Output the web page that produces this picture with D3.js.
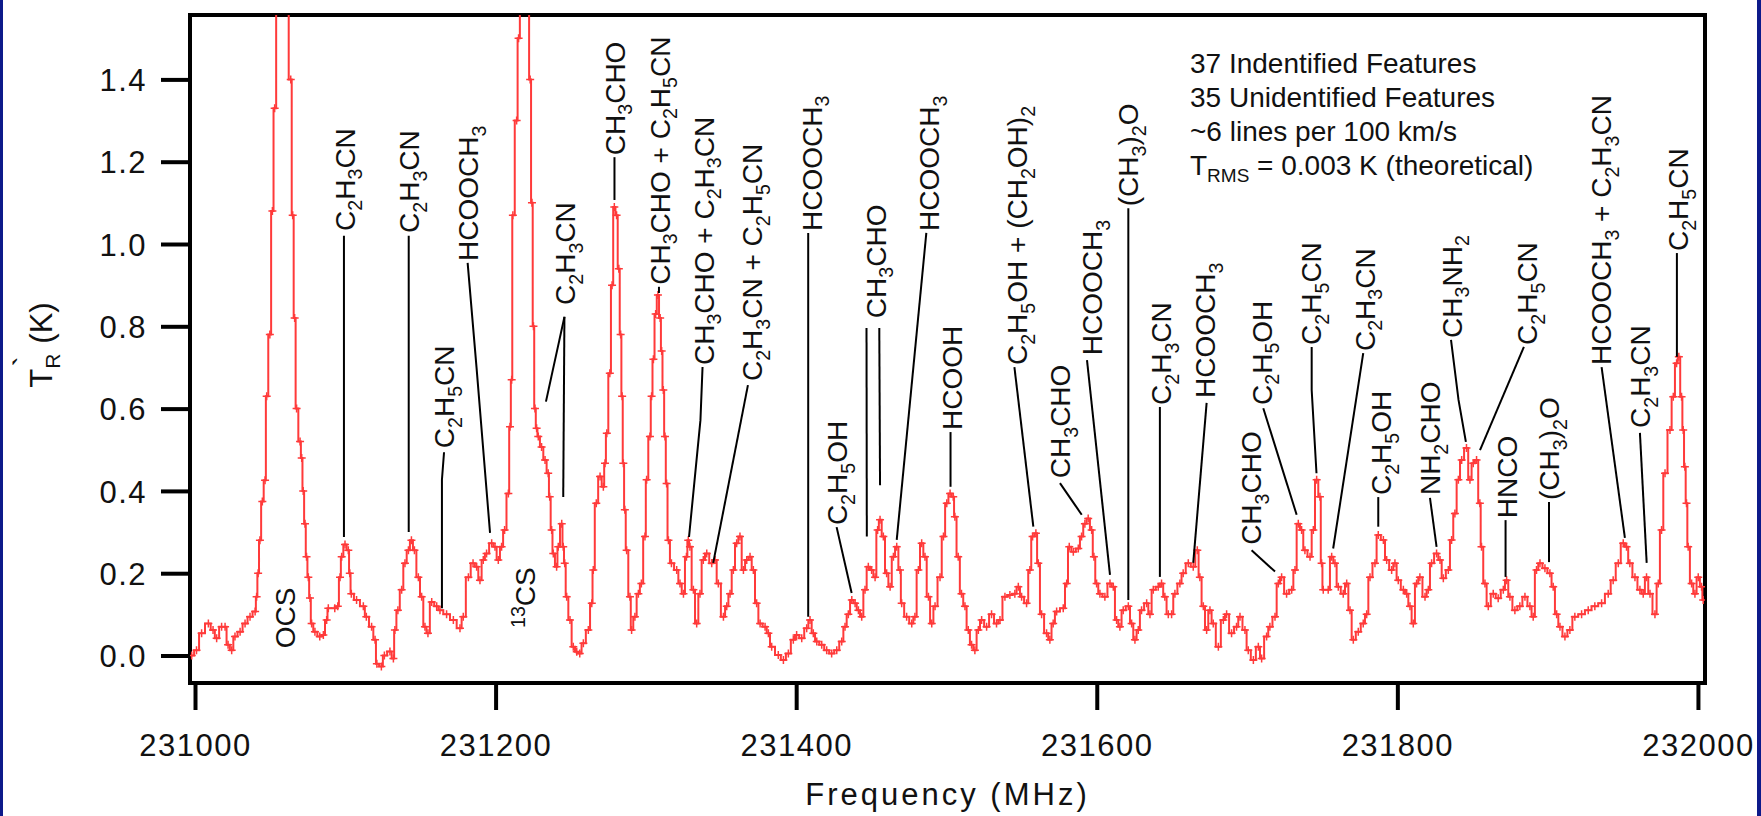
<!DOCTYPE html>
<html>
<head>
<meta charset="utf-8">
<script src="https://cdn.jsdelivr.net/npm/d3@7"></script>
<style>
html, body { margin: 0; padding: 0; background: #fff; }
svg { display: block; font-family: "Liberation Sans", Arial, Helvetica, sans-serif; }
</style>
</head>
<body>
<svg id="chart" width="1761" height="816"></svg>
<script>
// frequencies are MHz above F0
const F0 = 231000;

const xTicks = [231000, 231200, 231400, 231600, 231800, 232000];
const yTicks = [0.0, 0.2, 0.4, 0.6, 0.8, 1.0, 1.2, 1.4];

const specF = [-2.2, 1, 4.4, 8.9, 12, 14.4, 17.7, 20, 22, 24.4, 26.6, 30, 33.3, 36.6, 40, 41, 42, 43.2, 44.8, 46.6,
  47.7, 49.8, 51.5, 53, 55, 58, 61, 63.7, 65, 66.3, 67.6, 69.9, 71, 72, 73.2, 74.2, 75.4, 76.5, 77.6, 79.8,
  83, 85.4, 87.6, 88.7, 93, 95, 96.5, 97.6, 99.8, 102, 103, 104, 107.5, 112, 114, 117.5, 119.8, 121, 124, 126,
  129.7, 132, 133, 135, 137.5, 139.7, 142, 144, 146, 148.6, 150.8, 153, 155, 157.5, 160.8, 163, 167.4, 171.9, 176.3, 178.5,
  181.9, 185, 187.4, 189.6, 191.8, 194, 197.4, 199.6, 201.8, 204, 206, 208.5, 209.6, 210.7, 211.5, 214, 215.3, 217, 219, 221.6,
  223, 224.2, 225.2, 226.2, 227.3, 228.4, 230.6, 232.9, 235, 236, 237.3, 238.4, 240.6, 241.7, 244, 245, 246, 247.3, 249.5, 251.7,
  254, 256, 258.4, 261.7, 264, 265, 267, 269.5, 271.7, 272.8, 274, 276, 277.5, 279, 280.5, 282, 283.2, 284.2, 285, 286,
  287.2, 289.4, 290.5, 292.7, 295, 297, 299.4, 300.5, 302.7, 303.8, 305, 306.5, 308, 309.5, 310.5, 311.6, 312.7, 313.8, 315, 317,
  320.5, 322.7, 325, 327, 328.2, 329.3, 331.6, 333.8, 336, 338.2, 340.5, 343.8, 346, 348.2, 351.6, 353.8, 356, 358.2, 360.4, 362.6,
  364.9, 367.1, 369.3, 371.5, 373.7, 376, 379.3, 381.5, 383.7, 388.1, 391.5, 394.8, 398.1, 400.3, 403.7, 407, 409.2, 411.4, 413.7, 417,
  420.3, 423.6, 427, 430.3, 432.5, 434.7, 437, 439.2, 441.4, 443.6, 445.8, 448, 450.2, 452.5, 454.2, 455.8, 458, 460.2, 462.5, 464.7,
  466.9, 469.1, 470.2, 473.5, 476.9, 479, 481.3, 483.5, 485.7, 488, 490.2, 492.4, 495.7, 498, 500.2, 502.4, 504.5, 505.6, 507.8, 510,
  512.3, 514.5, 516.7, 518.9, 521.2, 523.4, 526.7, 530, 533.3, 535.6, 538.9, 542.2, 545.5, 547.8, 550, 553.3, 555.5, 557.3, 559.5, 561.1,
  563.3, 566.6, 568.8, 571, 573.3, 577.7, 580, 581.7, 584.4, 587.7, 589.9, 592.1, 594.3, 596.6, 598.1, 599.9, 602.1, 605.4, 608.8, 611,
  613.2, 615.4, 617.6, 621, 623.2, 625.4, 627.6, 629.8, 633.2, 635.4, 637.6, 640.9, 643.1, 645.3, 647.6, 649.8, 652, 655.3, 657.5, 660.9,
  664.2, 666.9, 668.6, 670.9, 673.1, 675.3, 677.5, 680.9, 684.2, 686.4, 689.7, 693, 695.3, 698.6, 700.8, 704.2, 707.5, 709.7, 713, 715.2,
  718.6, 720.8, 723, 726.3, 729.7, 731.9, 734.1, 736.3, 738.5, 741.9, 744.1, 746.3, 748.5, 749.6, 750.7, 754, 756.3, 758.5, 760.7, 764,
  766.3, 768.5, 770.7, 774, 777.3, 779.6, 781.8, 785.1, 787.3, 790.7, 792.9, 796.2, 798.4, 800.6, 804, 806.2, 808.4, 810.6, 812.8, 815,
  818.4, 820.6, 822.8, 826.1, 828.4, 830.6, 833.9, 836.1, 838.3, 840.6, 842.8, 846, 848.3, 850.5, 852.7, 854.9, 856, 858.3, 860.5, 863.8,
  867.1, 870.5, 872.7, 874.9, 878.2, 881.5, 884.9, 888.2, 890.4, 892.6, 894.9, 898.2, 901.5, 903.7, 906, 908.2, 911.5, 914.8, 918.1, 922.6,
  927, 931.4, 935.9, 940.3, 943.6, 947, 950.3, 952.5, 954.7, 958.1, 961.4, 963.6, 965.8, 968.1, 971.4, 973.6, 975.8, 978.1, 981.4, 983.6,
  985.8, 987.3, 989.1, 990.2, 991.3, 992.4, 993.5, 995.8, 998, 1000.2, 1002.4, 1003.5];

const specT = [0.00, 0.013, 0.054, 0.078, 0.062, 0.042, 0.07, 0.07, 0.026, 0.013, 0.046, 0.058, 0.078, 0.094, 0.107, 0.143, 0.2, 0.28, 0.374, 0.426,
  0.63, 0.78, 1.08, 1.33, 2.2, 3.0, 2.3, 1.4, 1.07, 0.82, 0.6, 0.52, 0.48, 0.40, 0.32, 0.24, 0.19, 0.14, 0.078, 0.058,
  0.046, 0.05, 0.086, 0.115, 0.115, 0.12, 0.19, 0.24, 0.27, 0.256, 0.2, 0.15, 0.135, 0.12, 0.094, 0.07, 0.038, -0.02, -0.027, 0.0,
  0.01, -0.007, 0.062, 0.11, 0.16, 0.224, 0.256, 0.28, 0.256, 0.19, 0.143, 0.07, 0.054, 0.13, 0.12, 0.11, 0.1, 0.086, 0.066, 0.094,
  0.19, 0.224, 0.216, 0.183, 0.232, 0.248, 0.273, 0.264, 0.232, 0.264, 0.305, 0.394, 0.556, 0.67, 1.07, 1.3, 1.5, 2.2, 2.8, 1.6,
  1.4, 1.1, 0.8, 0.6, 0.552, 0.532, 0.507, 0.475, 0.443, 0.386, 0.305, 0.248, 0.216, 0.264, 0.32, 0.264, 0.224, 0.143, 0.086, 0.021,
  0.009, 0.005, 0.03, 0.062, 0.127, 0.208, 0.37, 0.435, 0.41, 0.467, 0.54, 0.686, 0.9, 1.09, 1.07, 0.94, 0.78, 0.63, 0.467, 0.354,
  0.256, 0.143, 0.062, 0.094, 0.15, 0.175, 0.289, 0.427, 0.532, 0.63, 0.72, 0.83, 0.876, 0.82, 0.74, 0.645, 0.532, 0.418, 0.28, 0.224,
  0.208, 0.175, 0.15, 0.24, 0.28, 0.264, 0.16, 0.078, 0.15, 0.232, 0.248, 0.224, 0.232, 0.175, 0.094, 0.12, 0.15, 0.208, 0.273, 0.289,
  0.208, 0.232, 0.24, 0.208, 0.127, 0.078, 0.07, 0.054, 0.021, 0.001, -0.011, 0.005, 0.038, 0.05, 0.042, 0.066, 0.086, 0.054, 0.034, 0.026,
  0.013, 0.005, 0.013, 0.034, 0.07, 0.1, 0.135, 0.127, 0.11, 0.094, 0.16, 0.216, 0.208, 0.19, 0.305, 0.33, 0.289, 0.2, 0.167, 0.24,
  0.264, 0.208, 0.127, 0.094, 0.078, 0.094, 0.208, 0.273, 0.24, 0.143, 0.078, 0.12, 0.19, 0.289, 0.37, 0.394, 0.386, 0.337, 0.24, 0.15,
  0.12, 0.062, 0.026, 0.013, 0.062, 0.086, 0.07, 0.1, 0.078, 0.086, 0.143, 0.147, 0.15, 0.167, 0.143, 0.127, 0.208, 0.289, 0.297, 0.224,
  0.1, 0.054, 0.038, 0.078, 0.107, 0.115, 0.175, 0.264, 0.252, 0.26, 0.289, 0.32, 0.333, 0.305, 0.24, 0.175, 0.15, 0.143, 0.175, 0.167,
  0.086, 0.07, 0.11, 0.12, 0.078, 0.038, 0.062, 0.11, 0.127, 0.1, 0.16, 0.167, 0.175, 0.143, 0.1, 0.1, 0.15, 0.175, 0.2, 0.224,
  0.216, 0.256, 0.19, 0.12, 0.062, 0.11, 0.078, 0.021, 0.086, 0.1, 0.054, 0.07, 0.094, 0.062, 0.013, -0.011, 0.021, -0.007, 0.046, 0.07,
  0.094, 0.175, 0.19, 0.15, 0.16, 0.208, 0.32, 0.305, 0.256, 0.24, 0.305, 0.427, 0.386, 0.224, 0.16, 0.16, 0.24, 0.224, 0.167, 0.15,
  0.175, 0.11, 0.038, 0.058, 0.078, 0.1, 0.19, 0.224, 0.293, 0.281, 0.232, 0.208, 0.224, 0.183, 0.16, 0.15, 0.12, 0.078, 0.175, 0.19,
  0.143, 0.16, 0.224, 0.248, 0.232, 0.188, 0.208, 0.281, 0.345, 0.427, 0.475, 0.504, 0.427, 0.467, 0.475, 0.37, 0.264, 0.175, 0.12, 0.15,
  0.139, 0.16, 0.183, 0.143, 0.11, 0.12, 0.143, 0.12, 0.094, 0.208, 0.224, 0.212, 0.2, 0.167, 0.1, 0.07, 0.046, 0.062, 0.094, 0.1,
  0.11, 0.12, 0.127, 0.15, 0.183, 0.224, 0.273, 0.264, 0.224, 0.19, 0.16, 0.15, 0.19, 0.15, 0.1, 0.175, 0.305, 0.443, 0.548, 0.629,
  0.71, 0.726, 0.629, 0.548, 0.459, 0.37, 0.264, 0.175, 0.15, 0.19, 0.167, 0.135];

// line identifications: "_n" subscript, "^n" superscript
const labelText = ["C_2H_3CN", "C_2H_3CN", "HCOOCH_3", "C_2H_5CN", "OCS", "^13CS", "C_2H_3CN", "CH_3CHO",
  "CH_3CHO + C_2H_5CN", "CH_3CHO + C_2H_3CN", "C_2H_3CN + C_2H_5CN", "HCOOCH_3", "C_2H_5OH", "CH_3CHO",
  "HCOOCH_3", "HCOOH", "C_2H_5OH + (CH_2OH)_2", "CH_3CHO", "HCOOCH_3", "(CH_3)_2O", "C_2H_3CN", "HCOOCH_3",
  "CH_3CHO", "C_2H_5OH", "C_2H_5CN", "C_2H_3CN", "C_2H_5OH", "NH_2CHO", "CH_3NH_2", "C_2H_5CN", "HNCO",
  "(CH_3)_2O", "HCOOCH_3 + C_2H_3CN", "C_2H_3CN", "C_2H_5CN"];
const labelFreq = [99.5, 142.4, 181.6, 165.7, 59.5, 219.6, 246.2, 279.1, 309.1, 338.3, 370.6, 410.2, 426.9, 452.8,
  488.4, 503.3, 546.9, 575.5, 596.8, 620.8, 642.7, 672, 702.6, 709.6, 742.5, 778.1, 789.1, 821.7, 836, 886.2, 872.9,
  900.9, 935.5, 961.4, 986.7];
const labelBase = [1.027, 1.022, 0.954, 0.499, 0.013, 0.062, 0.847, 1.211, 0.896, 0.701, 0.662, 1.027, 0.312, 0.815,
  1.027, 0.543, 0.701, 0.426, 0.725, 1.087, 0.604, 0.621, 0.264, 0.604, 0.75, 0.735, 0.385, 0.385, 0.767, 0.75, 0.329,
  0.373, 0.701, 0.548, 0.978];
// leader lines, [freq, T] points, one or more polylines per label
const leaders = [
  [[[99.1, 1.02], [99.1, 0.288]]],
  [[[142.2, 1.02], [142.2, 0.30]]],
  [[[181.4, 0.954], [187.3, 0.701], [196.3, 0.298]]],
  [[[165.7, 0.494], [164.3, 0.427], [164.3, 0.115]]],
  [],
  [],
  [[[245.8, 0.823], [233.5, 0.617]], [[245.8, 0.823], [245, 0.385]]],
  [[[279.1, 1.211], [279.1, 1.107]]],
  [[[308.7, 0.896], [308.7, 0.881]]],
  [[[337.7, 0.701], [336.3, 0.572], [328.7, 0.288]]],
  [[[367.9, 0.657], [344.8, 0.225]]],
  [[[408.0, 1.027], [408.0, 0.094]]],
  [[[426.9, 0.312], [436.9, 0.152]]],
  [[[446.8, 0.796], [447, 0.289]], [[455.3, 0.796], [455.8, 0.414]]],
  [[[486.6, 1.027], [466.9, 0.281]]],
  [[[502.7, 0.543], [502.7, 0.41]]],
  [[[545.2, 0.701], [557.8, 0.313]]],
  [[[575.5, 0.419], [590, 0.342]]],
  [[[593.5, 0.718], [608.8, 0.196]]],
  [[[621, 1.087], [621, 0.135]]],
  [[[642, 0.604], [642, 0.191]]],
  [[[673.1, 0.614], [664.2, 0.225]]],
  [[[703, 0.256], [718.6, 0.204]]],
  [[[710.8, 0.601], [733, 0.342]]],
  [[[743, 0.75], [743, 0.645], [746.2, 0.443]]],
  [[[777.3, 0.735], [757.3, 0.26]]],
  [[[787.3, 0.385], [787.3, 0.313]]],
  [[[821.7, 0.383], [826.1, 0.264]]],
  [[[835.7, 0.767], [840.7, 0.621], [845.6, 0.519]]],
  [[[884.2, 0.75], [855, 0.499]]],
  [[[872, 0.329], [872, 0.191]]],
  [[[900.9, 0.373], [900.9, 0.227]]],
  [[[935.9, 0.701], [951.4, 0.286]]],
  [[[961.4, 0.541], [965.9, 0.225]]],
  [[[986, 0.978], [986, 0.726]]]
];

const noteLines = ["37 Indentified Features", "35 Unidentified Features", "~6 lines per 100 km/s"];

const W = 1761, H = 816;
const plot = { left: 190, right: 1705, top: 15, bottom: 683 };
const red = "#ff3a3a";

const svg = d3.select("#chart");

// page edges
svg.append("rect").attr("width", W).attr("height", H).attr("fill", "#0d1a8a");
svg.append("rect").attr("x", 3).attr("width", W - 7).attr("height", H).attr("fill", "#fff");

const x = d3.scaleLinear().domain([-3.33, 1004.7]).range([plot.left, plot.right]);
const y = d3.scaleLinear().domain([-0.0668, 1.5565]).range([plot.bottom, plot.top]);

svg.append("clipPath").attr("id", "clip")
  .append("rect")
  .attr("x", plot.left).attr("y", plot.top)
  .attr("width", plot.right - plot.left).attr("height", plot.bottom - plot.top);

// axes
const yAxis = d3.axisLeft(y).tickValues(yTicks).tickFormat(d3.format(".1f")).tickSize(29).tickPadding(14);
const gy = svg.append("g").attr("transform", `translate(${plot.left},0)`).call(yAxis);
const xAxis = d3.axisBottom(x).tickValues(xTicks.map(t => t - F0)).tickFormat(d => d3.format("d")(d + F0))
  .tickSize(27).tickPadding(24);
const gx = svg.append("g").attr("transform", `translate(0,${plot.bottom})`).call(xAxis);
[gx, gy].forEach(g => {
  g.select(".domain").remove();
  g.selectAll(".tick line").attr("stroke", "#000").attr("stroke-width", 4);
  g.selectAll(".tick text").attr("fill", "#111").attr("font-size", 31)
    .attr("font-family", "'Liberation Sans', Arial, sans-serif").attr("letter-spacing", 1.5);
});
gy.selectAll(".tick text").attr("dy", "0.36em");

// frame
svg.append("rect")
  .attr("x", plot.left).attr("y", plot.top)
  .attr("width", plot.right - plot.left).attr("height", plot.bottom - plot.top)
  .attr("fill", "none").attr("stroke", "#000").attr("stroke-width", 4);

// spectrum
const pts = specF.map((f, i) => [f, specT[i]]);
const spec = svg.append("g").attr("clip-path", "url(#clip)");
spec.append("path")
  .datum(pts)
  .attr("fill", "none")
  .attr("stroke", red)
  .attr("stroke-width", 2)
  .attr("d", d3.line().x(d => x(d[0])).y(d => y(d[1])).curve(d3.curveStep));
spec.selectAll(".mk")
  .data(pts)
  .enter()
  .append("path")
  .attr("class", "mk")
  .attr("transform", d => `translate(${x(d[0])},${y(d[1])})`)
  .attr("d", "M-4,0H4M0,-4V4")
  .attr("stroke", red)
  .attr("stroke-width", 1.5);

// formula text with sub/superscripts
function addFormula(textSel, str, size) {
  const re = /([_^])(\d+)|([^_^]+)/g;
  let m, cur = 0;
  while ((m = re.exec(str)) !== null) {
    let target, fs, txt;
    if (m[3]) { target = 0; fs = size; txt = m[3]; }
    else if (m[1] === "_") { target = size * 0.28; fs = size * 0.7; txt = m[2]; }
    else { target = -size * 0.38; fs = size * 0.7; txt = m[2]; }
    textSel.append("tspan").attr("dy", target - cur).attr("font-size", fs).text(txt);
    cur = target;
  }
}

// leader lines
const leaderLine = d3.line().x(d => x(d[0])).y(d => y(d[1]));
leaders.forEach(list => {
  list.forEach(seg => {
    svg.append("path")
      .attr("d", leaderLine(seg))
      .attr("fill", "none")
      .attr("stroke", "#000")
      .attr("stroke-width", 2);
  });
});

// rotated labels
const labSize = 28;
labelText.forEach((t, i) => {
  const g = svg.append("g")
    .attr("transform", `translate(${x(labelFreq[i])},${y(labelBase[i]) - 2}) rotate(-90)`);
  const txt = g.append("text")
    .attr("x", 0).attr("y", labSize * 0.36)
    .attr("fill", "#111")
    .attr("font-size", labSize)
    .attr("xml:space", "preserve");
  addFormula(txt, t, labSize);
});

// note block
const note = svg.append("g").attr("font-size", 28).attr("fill", "#111");
noteLines.forEach((t, i) => {
  note.append("text").attr("x", 1190).attr("y", 73 + i * 34).text(t);
});
const rms = note.append("text").attr("x", 1190).attr("y", 175);
rms.append("tspan").text("T");
rms.append("tspan").attr("font-size", 19).attr("dy", 7).text("RMS");
rms.append("tspan").attr("dy", -7).text(" = 0.003 K (theoretical)");

// axis titles
svg.append("text")
  .attr("x", (plot.left + plot.right) / 2).attr("y", 805)
  .attr("text-anchor", "middle")
  .attr("font-size", 31)
  .attr("letter-spacing", 3)
  .attr("fill", "#111")
  .text("Frequency (MHz)");

const yt = svg.append("text")
  .attr("transform", "translate(52,345) rotate(-90)")
  .attr("text-anchor", "middle")
  .attr("font-size", 31)
  .attr("fill", "#111");
yt.append("tspan").text("T");
yt.append("tspan").attr("font-size", 21).attr("dy", 8).text("R");
yt.append("tspan").attr("dx", -13).attr("dy", -24).text("`");
yt.append("tspan").attr("dx", 4).attr("dy", 16).text(" (K)");
</script>
</body>
</html>
